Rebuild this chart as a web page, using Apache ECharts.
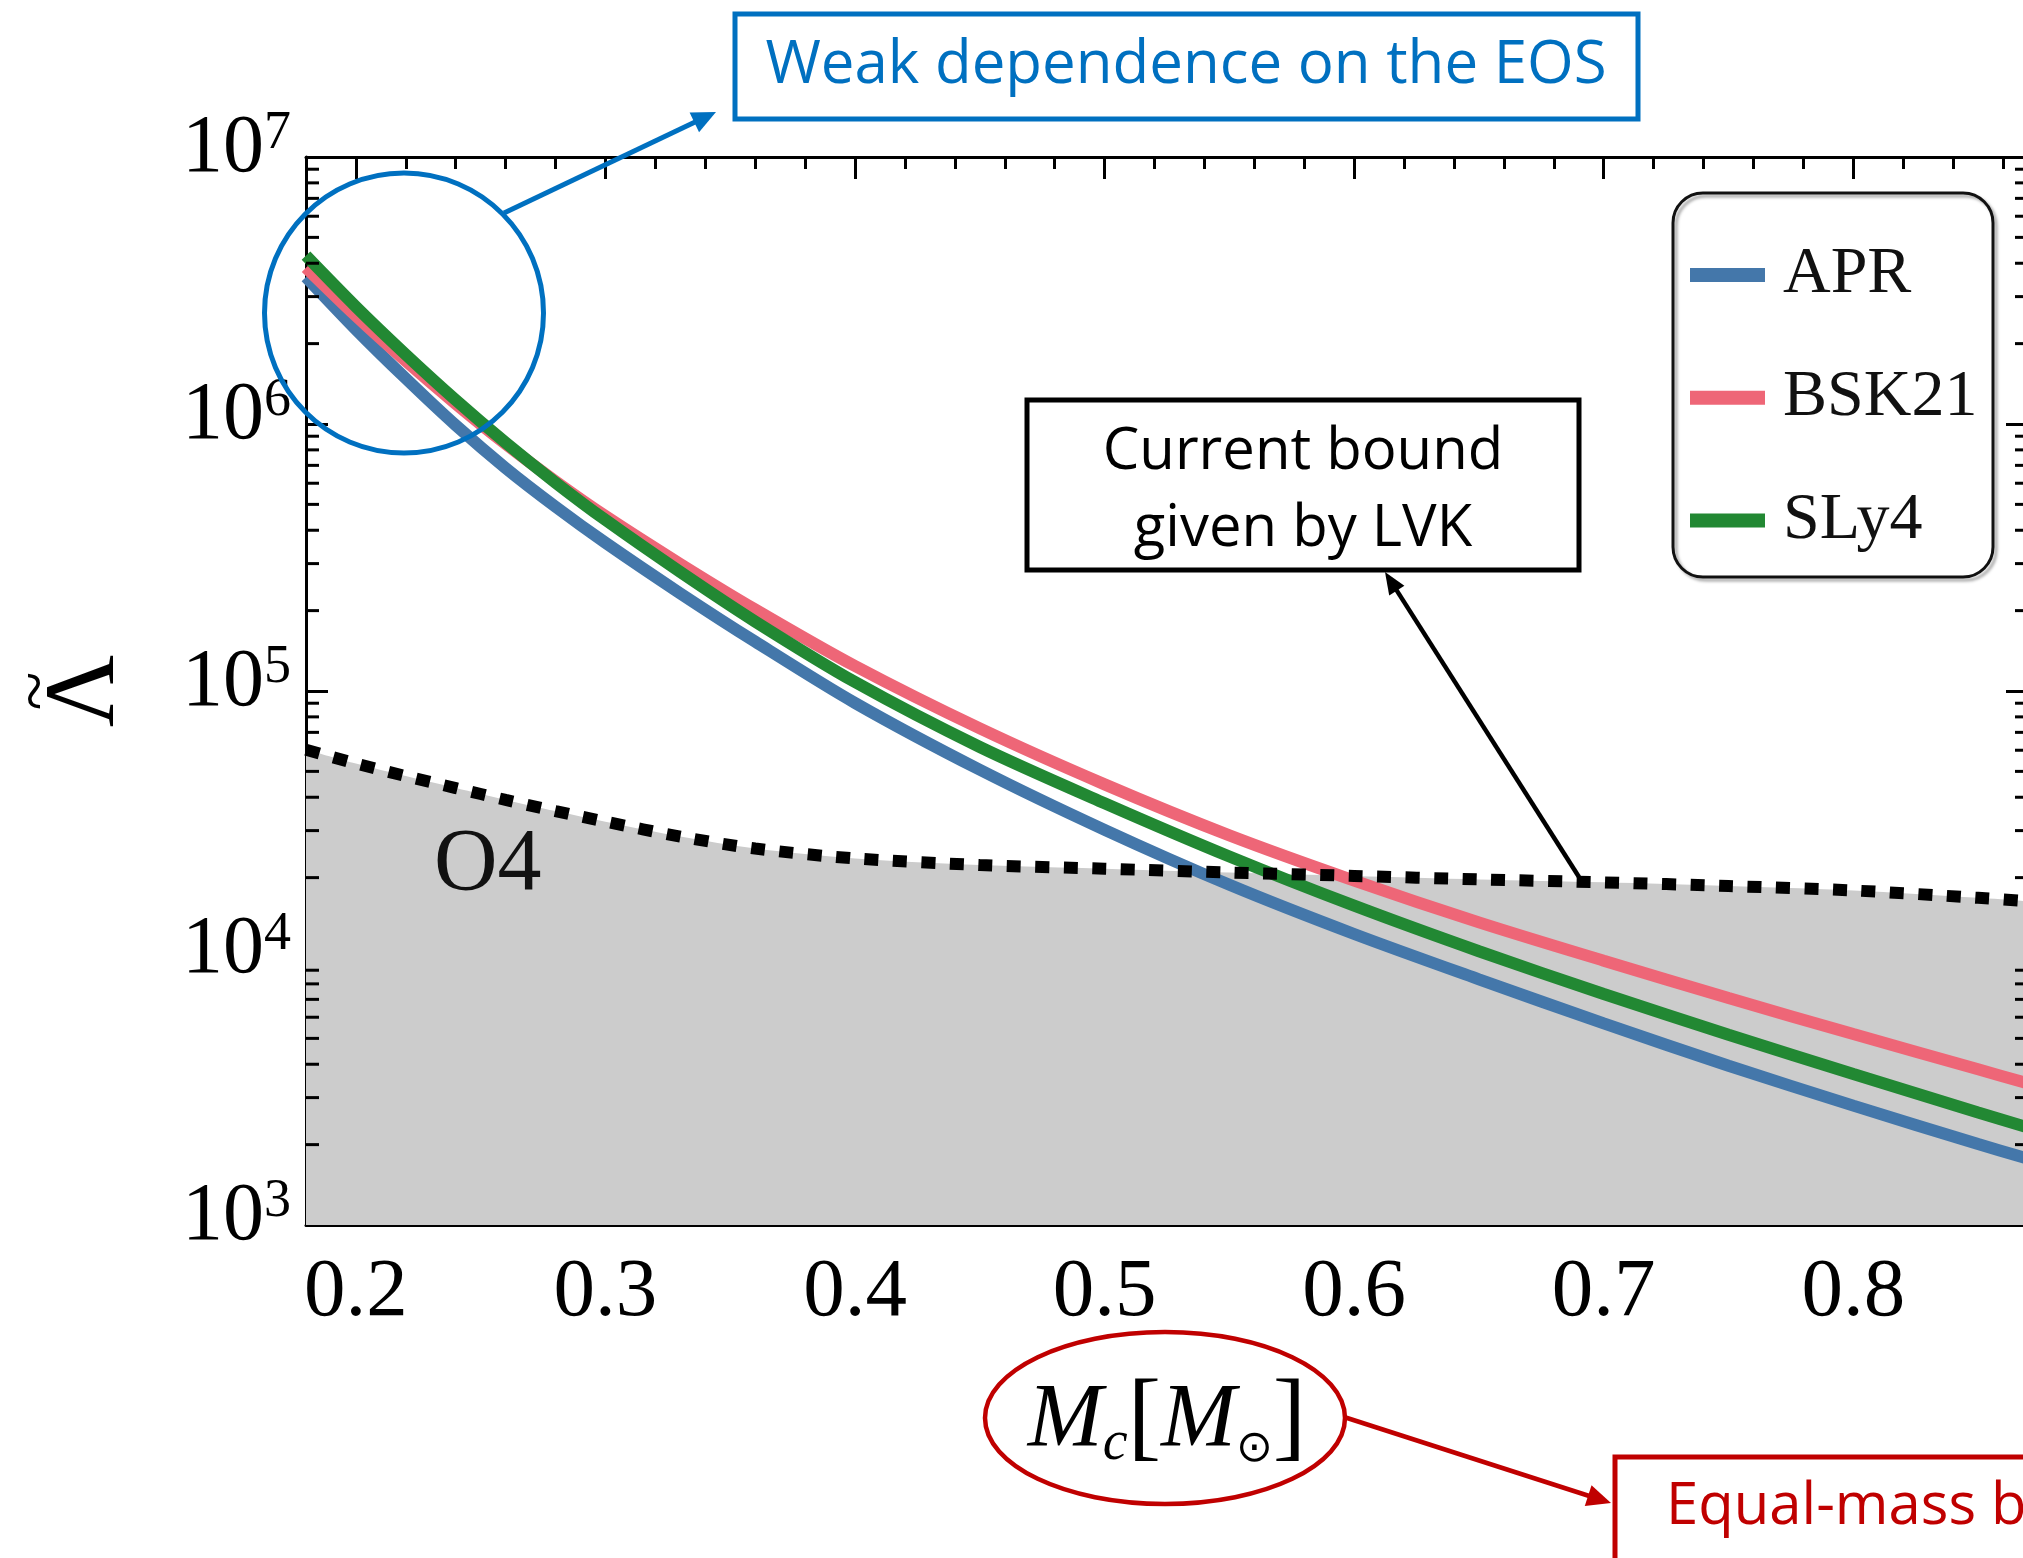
<!DOCTYPE html>
<html>
<head>
<meta charset="utf-8">
<script src="https://cdn.jsdelivr.net/npm/echarts@6/dist/echarts.min.js"></script>
<style>
  html, body { margin: 0; padding: 0; background: #fff; }
  #chart { width: 2023px; height: 1558px; }
</style>
</head>
<body>
<div id="chart"></div>
<script>
// Chirp mass samples [M_sun]
const chirpMass = [0.18, 0.20, 0.22, 0.24, 0.26, 0.28, 0.30, 0.33, 0.36, 0.40, 0.45, 0.50, 0.55, 0.60, 0.65, 0.70, 0.75, 0.80, 0.85, 0.87];
// Binary tidal deformability for each equation of state (equal-mass binaries)
const lambdaAPR   = [3.55e6, 2.26e6, 1.48e6, 9.89e5, 6.84e5, 4.90e5, 3.59e5, 2.32e5, 1.53e5, 9.02e4, 5.07e4, 3.02e4, 1.88e4, 1.23e4, 8.32e3, 5.69e3, 3.95e3, 2.80e3, 2.01e3, 1.77e3];
const lambdaBSK21 = [3.85e6, 2.54e6, 1.72e6, 1.19e6, 8.41e5, 6.10e5, 4.52e5, 2.99e5, 2.02e5, 1.24e5, 7.24e4, 4.47e4, 2.88e4, 1.95e4, 1.36e4, 9.77e3, 7.08e3, 5.19e3, 3.83e3, 3.39e3];
const lambdaSLy4  = [4.27e6, 2.75e6, 1.82e6, 1.23e6, 8.51e5, 6.03e5, 4.37e5, 2.79e5, 1.82e5, 1.08e5, 6.17e4, 3.80e4, 2.40e4, 1.57e4, 1.06e4, 7.33e3, 5.16e3, 3.68e3, 2.64e3, 2.32e3];
// O4 sensitivity bound
const lambdaO4    = [6.03e4, 5.35e4, 4.80e4, 4.33e4, 3.91e4, 3.55e4, 3.24e4, 2.85e4, 2.57e4, 2.36e4, 2.23e4, 2.16e4, 2.09e4, 2.03e4, 1.97e4, 1.92e4, 1.86e4, 1.79e4, 1.68e4, 1.63e4];

const seriesNames = ['APR', 'BSK21', 'SLy4'];
const seriesColors = ['#4477AA', '#EE6677', '#228833'];

// Axis ranges
const X_MIN = 0.18, X_MAX = 0.87;
const Y_MIN = 1e3, Y_MAX = 1e7;
// Minor tick mantissas and decades for the log axis
const minorMantissas = [2, 3, 4, 5, 6, 7, 8, 9];
const minorDecades = [1e3, 1e4, 1e5, 1e6];

const SERIF = 'Liberation Serif';

const zip = (xs, ys) => xs.map((x, i) => [x, ys[i]]);

const minorTickData = [];
minorDecades.forEach(d => minorMantissas.forEach(m => minorTickData.push([X_MIN, m * d])));

function arrow(x1, y1, x2, y2, color, lw, headLen, headHalf) {
  const dx = x2 - x1, dy = y2 - y1, len = Math.hypot(dx, dy);
  const ux = dx / len, uy = dy / len;
  const bx = x2 - ux * headLen, by = y2 - uy * headLen;
  return [
    { type: 'line', z: 100, silent: true,
      shape: { x1: x1, y1: y1, x2: bx + ux * 2, y2: by + uy * 2 },
      style: { stroke: color, lineWidth: lw } },
    { type: 'polygon', z: 100, silent: true,
      shape: { points: [[x2, y2], [bx - uy * headHalf, by + ux * headHalf], [bx + uy * headHalf, by - ux * headHalf]] },
      style: { fill: color } }
  ];
}

const BLUE = '#0070C0', RED = '#C00000';

const graphics = [
  // legend frame
  { type: 'rect', z: 90, silent: true,
    shape: { x: 1673, y: 193, width: 320, height: 384, r: 30 },
    style: { fill: 'none', stroke: '#111', lineWidth: 3, shadowBlur: 3, shadowColor: 'rgba(0,0,0,0.35)', shadowOffsetX: 3, shadowOffsetY: 3 } },
  // O4 label
  { type: 'text', z: 100, silent: true,
    style: { text: 'O4', x: 434, y: 866, fill: '#111', font: '88px "Liberation Serif"', align: 'left', verticalAlign: 'middle' } },
  // EOS callout
  { type: 'ellipse', z: 100, silent: true,
    shape: { cx: 404, cy: 313, rx: 139.5, ry: 140 },
    style: { fill: 'none', stroke: BLUE, lineWidth: 5 } },
  ...arrow(504, 213, 716, 112, BLUE, 5, 24, 11),
  { type: 'rect', z: 100, silent: true,
    shape: { x: 735, y: 14, width: 903, height: 105 },
    style: { fill: '#fff', stroke: BLUE, lineWidth: 5 } },
  { type: 'text', z: 101, silent: true,
    style: { text: 'Weak dependence on the EOS', x: 1186, y: 66, fill: BLUE, font: '60px "Open Sans"', align: 'center', verticalAlign: 'middle' } },
  // LVK bound callout
  { type: 'rect', z: 100, silent: true,
    shape: { x: 1027, y: 400, width: 552, height: 170 },
    style: { fill: '#fff', stroke: '#000', lineWidth: 5 } },
  { type: 'text', z: 101, silent: true,
    style: { text: 'Current bound', x: 1303, y: 452, fill: '#000', font: '58px "Open Sans"', align: 'center', verticalAlign: 'middle' } },
  { type: 'text', z: 101, silent: true,
    style: { text: 'given by LVK', x: 1303, y: 529, fill: '#000', font: '58px "Open Sans"', align: 'center', verticalAlign: 'middle' } },
  ...arrow(1579, 877, 1385, 572, '#000', 4.5, 22, 9),
  // chirp-mass callout
  { type: 'ellipse', z: 100, silent: true,
    shape: { cx: 1165, cy: 1418, rx: 180, ry: 86 },
    style: { fill: 'none', stroke: RED, lineWidth: 4.5 } },
  ...arrow(1344, 1417, 1611, 1503, RED, 4.5, 24, 11),
  { type: 'rect', z: 100, silent: true,
    shape: { x: 1615, y: 1457, width: 600, height: 300 },
    style: { fill: '#fff', stroke: RED, lineWidth: 5 } },
  { type: 'text', z: 101, silent: true,
    style: { text: 'Equal-mass binaries', x: 1666, y: 1507, fill: RED, font: '58px "Open Sans"', align: 'left', verticalAlign: 'middle' } }
];

const chart = echarts.init(document.getElementById('chart'), null, { renderer: 'canvas' });

const commonTick = { show: true, inside: true, length: 22, lineStyle: { color: '#000', width: 3 } };
const commonMinor = { show: true, splitNumber: 5, length: 12, lineStyle: { color: '#000', width: 3 } };
const axisLineStyle = { show: true, onZero: false, lineStyle: { color: '#000', width: 3 } };

chart.setOption({
  animation: false,
  backgroundColor: '#fff',
  grid: { left: 306, top: 157, right: -5, bottom: 333, containLabel: false, outerBoundsMode: 'none' },
  legend: {
    data: seriesNames,
    orient: 'vertical',
    left: 1690, top: 241,
    itemWidth: 75, itemHeight: 14, itemGap: 54.7,
    icon: 'rect',
    padding: 0,
    selectedMode: false,
    textStyle: { fontFamily: SERIF, fontSize: 66, lineHeight: 68, color: '#111', padding: [0, 0, 0, 13] }
  },
  xAxis: [
    {
      type: 'value', position: 'bottom', min: X_MIN, max: X_MAX, splitNumber: 7,
      axisLine: axisLineStyle, axisTick: commonTick, minorTick: commonMinor,
      splitLine: { show: false },
      axisLabel: {
        show: true, margin: 27, showMinLabel: false, showMaxLabel: false,
        fontFamily: SERIF, fontSize: 83, lineHeight: 83, color: '#000',
        formatter: v => v.toFixed(1)
      },
      name: '{i|M}{c|c}{b|[}{i|M}{o|⊙}{b|]}',
      nameLocation: 'middle', nameGap: 147,
      nameTextStyle: {
        color: '#000',
        rich: {
          i: { fontFamily: SERIF, fontStyle: 'italic', fontSize: 90, lineHeight: 100, color: '#000' },
          c: { fontFamily: SERIF, fontStyle: 'italic', fontSize: 56, lineHeight: 45, verticalAlign: 'bottom', color: '#000' },
          b: { fontFamily: SERIF, fontSize: 100, lineHeight: 100, color: '#000' },
          o: { fontFamily: 'DejaVu Sans', fontSize: 44, lineHeight: 28, verticalAlign: 'bottom', color: '#000' }
        }
      }
    },
    {
      type: 'value', position: 'top', min: X_MIN, max: X_MAX, splitNumber: 7,
      axisLine: axisLineStyle, axisTick: commonTick, minorTick: commonMinor,
      splitLine: { show: false }, axisLabel: { show: false }
    }
  ],
  yAxis: [
    {
      type: 'log', position: 'left', min: Y_MIN, max: Y_MAX, logBase: 10,
      axisLine: axisLineStyle, axisTick: commonTick,
      splitLine: { show: false },
      axisLabel: {
        margin: 15, padding: [0, 0, 16, 0],
        formatter: v => '{b|10}{s|' + Math.round(Math.log10(v)) + '}',
        rich: {
          b: { fontFamily: SERIF, fontSize: 82, lineHeight: 84, color: '#000' },
          s: { fontFamily: SERIF, fontSize: 54, lineHeight: 52, verticalAlign: 'top', color: '#000' }
        }
      },
      name: '{t|~}\n{l|Λ}',
      nameLocation: 'middle', nameGap: 174,
      nameTextStyle: {
        align: 'center',
        rich: {
          t: { fontFamily: SERIF, fontSize: 72, lineHeight: 6, align: 'center', color: '#000' },
          l: { fontFamily: SERIF, fontSize: 100, lineHeight: 90, align: 'center', color: '#000' }
        }
      }
    },
    {
      type: 'log', position: 'right', min: Y_MIN, max: Y_MAX, logBase: 10,
      axisLine: axisLineStyle, axisTick: commonTick,
      splitLine: { show: false }, axisLabel: { show: false }
    }
  ],
  series: [
    {
      name: 'O4 region', type: 'line', z: 1, data: zip(chirpMass, lambdaO4),
      smooth: 0.3, showSymbol: false, silent: true,
      lineStyle: { width: 0, opacity: 0 },
      areaStyle: { color: '#CCCCCC', opacity: 1, origin: 'start' }
    },
    {
      name: 'APR', type: 'line', z: 2, data: zip(chirpMass, lambdaAPR),
      smooth: 0.3, showSymbol: false, color: seriesColors[0],
      lineStyle: { width: 12, color: seriesColors[0] }
    },
    {
      name: 'BSK21', type: 'line', z: 2, data: zip(chirpMass, lambdaBSK21),
      smooth: 0.3, showSymbol: false, color: seriesColors[1],
      lineStyle: { width: 12, color: seriesColors[1] }
    },
    {
      name: 'SLy4', type: 'line', z: 2, data: zip(chirpMass, lambdaSLy4),
      smooth: 0.3, showSymbol: false, color: seriesColors[2],
      lineStyle: { width: 12, color: seriesColors[2] }
    },
    {
      name: 'O4', type: 'line', z: 3, data: zip(chirpMass, lambdaO4),
      smooth: 0.3, showSymbol: false, silent: true,
      lineStyle: { width: 12, color: '#000', type: [14, 14.5], cap: 'butt' }
    },
    {
      // logarithmic minor ticks on the left and right frame edges
      name: 'minor ticks', type: 'custom', z: 4, silent: true, clip: false,
      data: minorTickData,
      renderItem: (params, api) => {
        const v = api.value(1);
        const pL = api.coord([X_MIN, v]);
        const pR = api.coord([X_MAX, v]);
        return {
          type: 'group',
          children: [
            { type: 'line', shape: { x1: pL[0], y1: pL[1], x2: pL[0] + 13, y2: pL[1] }, style: { stroke: '#000', lineWidth: 3 } },
            { type: 'line', shape: { x1: pR[0], y1: pR[1], x2: pR[0] - 13, y2: pR[1] }, style: { stroke: '#000', lineWidth: 3 } }
          ]
        };
      }
    }
  ],
  graphic: { elements: graphics }
});
</script>
</body>
</html>
